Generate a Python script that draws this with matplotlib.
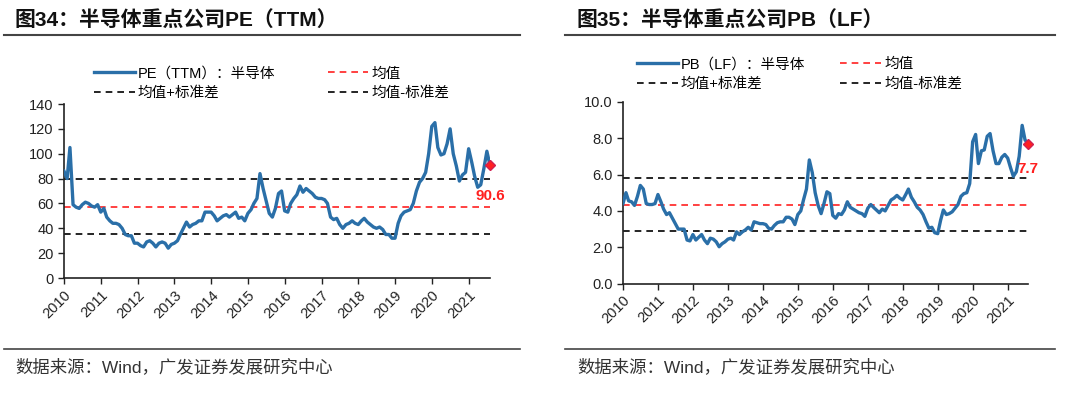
import numpy as np
import pandas as pd
import matplotlib
matplotlib.use("Agg")
import matplotlib.pyplot as plt
import matplotlib.dates as mdates
from matplotlib.lines import Line2D

plt.rcParams['font.family'] = ['Liberation Sans', 'Noto Sans CJK SC']
plt.rcParams['axes.unicode_minus'] = False

## 数据（月度，2010-01 ~ 2021-08，从图上读取）
pe_ttm = [86, 80, 105, 59, 57, 56, 59, 61, 60, 58, 57, 59,
          53, 56, 49, 46, 44, 44, 43, 40, 35, 34, 34, 28,
          28, 26, 25, 29, 30, 28, 25, 28, 29, 28, 24, 27,
          28, 30, 35, 40, 45, 41, 43, 44, 46, 46, 53, 53,
          53, 50, 46, 48, 50, 51, 49, 51, 53, 48, 49, 46,
          52, 55, 60, 64, 84, 72, 62, 52, 49, 56, 68, 70,
          54, 53, 60, 64, 67, 74, 69, 72, 70, 68, 65, 64,
          64, 63, 60, 49, 47, 48, 43, 40, 43, 44, 46, 44,
          43, 46, 48, 45, 43, 41, 40, 41, 39, 35, 35, 32,
          32, 44, 50, 53, 54, 55, 60, 70, 77, 80, 85, 100,
          122, 125, 105, 99, 100, 108, 120, 100, 90, 78, 83, 85,
          104, 93, 82, 73, 75, 88, 102, 90.6]
pb_lf = [4.4, 5.0, 4.55, 4.5, 4.3, 4.8, 5.4, 5.2, 4.4, 4.35, 4.35, 4.4,
         4.9, 4.5, 4.1, 3.8, 3.9, 3.6, 3.3, 3.0, 3.0, 3.0, 2.4, 2.35,
         2.7, 2.4, 2.55, 2.7, 2.4, 2.2, 2.5, 2.45, 2.3, 2.03, 2.2, 2.3,
         2.45, 2.5, 2.4, 2.85, 2.7, 2.85, 2.95, 3.1, 2.95, 3.4, 3.35, 3.3,
         3.3, 3.25, 3.05, 3.0, 3.2, 3.35, 3.4, 3.4, 3.65, 3.65, 3.55, 3.25,
         3.8, 4.0, 4.6, 5.2, 6.8, 6.1, 5.0, 4.3, 3.85, 4.4, 5.05, 4.95,
         3.75, 3.6, 3.85, 3.8, 4.05, 4.5, 4.2, 4.1, 4.0, 3.9, 3.85, 3.7,
         4.15, 4.35, 4.2, 4.05, 3.9, 4.1, 4.0, 4.3, 4.6, 4.7, 4.85, 4.7,
         4.6, 4.9, 5.2, 4.75, 4.5, 4.2, 4.05, 3.8, 3.4, 3.05, 3.1, 2.8,
         2.75, 3.5, 4.05, 3.8, 3.85, 3.95, 4.15, 4.35, 4.8, 4.95, 5.0, 5.5,
         7.8, 8.2, 6.6, 7.3, 7.35, 8.1, 8.25, 7.3, 6.6, 6.6, 6.95, 7.1,
         6.9, 6.35, 5.9, 6.15, 7.0, 8.7, 7.9, 7.7]

pe_mean, pe_std = 57.5, 22.2
pb_mean, pb_std = 4.35, 1.48

pe_yticks = [0, 20, 40, 60, 80, 100, 120, 140]
pb_yticks = [0.0, 2.0, 4.0, 6.0, 8.0, 10.0]

dates = pd.date_range("2010-01-01", periods=len(pe_ttm), freq="MS")

BLUE = "#2a6fa8"
RED = "#ff2020"

fig = plt.figure(figsize=(10.8, 3.99), dpi=100)


## 画一个面板
def panel(rect, values, mean, std, yticks, yfmt, series_label, end_label, end_dy,
          leg_anchor, colspace):
    ax = fig.add_axes(rect)
    ax.plot(dates, values, color=BLUE, lw=2.4, label=series_label, zorder=3)
    ax.axhline(mean + std, color="black", ls=(0, (4, 3)), lw=1.2, label="均值+标准差")
    ax.axhline(mean, color=RED, ls=(0, (4, 3)), lw=1.2, label="均值")
    ax.axhline(mean - std, color="black", ls=(0, (4, 3)), lw=1.2, label="均值-标准差")
    ax.plot(dates[-1], values[-1], marker="D", color=RED, ms=5.5, mec="#d02050",
            zorder=4, clip_on=False)
    ax.annotate(end_label, (dates[-1], values[-1]), xytext=(0, end_dy), textcoords="offset points",
                ha="center", va="center", color=RED, fontsize=11, fontweight="bold",
                annotation_clip=False)

    ax.set_xlim(pd.Timestamp("2010-01-01"), pd.Timestamp("2021-08-01"))
    ax.set_ylim(yticks[0], yticks[-1])
    ax.set_yticks(yticks)
    ax.set_yticklabels([yfmt.format(v) for v in yticks])
    ax.xaxis.set_major_locator(mdates.YearLocator())
    ax.xaxis.set_major_formatter(mdates.DateFormatter("%Y"))
    for lab in ax.get_xticklabels():
        lab.set_rotation(45)
        lab.set_ha("right")
        lab.set_rotation_mode("anchor")
    ax.tick_params(axis="both", direction="out", length=4, width=1, labelsize=10.5, colors="#222222")
    ax.tick_params(axis="x", pad=3)
    for s in ["top", "right"]:
        ax.spines[s].set_visible(False)
    for s in ["left", "bottom"]:
        ax.spines[s].set_linewidth(1.2)
        ax.spines[s].set_color("#222222")

    h, l = ax.get_legend_handles_labels()
    ax.legend(h, l, ncol=2, loc="upper left",
              bbox_to_anchor=leg_anchor, frameon=False, fontsize=10.5, handlelength=2.8,
              handletextpad=0.2, columnspacing=colspace, labelspacing=0.4, borderpad=0,
              borderaxespad=0)
    return ax


panel([64 / 1080, 121 / 399, 426 / 1080, 174 / 399], pe_ttm, pe_mean, pe_std, pe_yticks,
      "{:.0f}", "PE（TTM）：半导体", "90.6", -22, (0.07, 1.215), 3.6)
panel([623 / 1080, 115.3 / 399, 405 / 1080, 182 / 399], pb_lf, pb_mean, pb_std, pb_yticks,
      "{:.1f}", "PB（LF）：半导体", "7.7", -18, (0.035, 1.245), 2.4)

## 标题、分隔线、数据来源
fig.text(14 / 1080, 1 - 20 / 399, "图34：半导体重点公司PE（TTM）", fontsize=15, fontweight="bold",
         va="center", ha="left", color="#111111")
fig.text(577 / 1080, 1 - 20 / 399, "图35：半导体重点公司PB（LF）", fontsize=15, fontweight="bold",
         va="center", ha="left", color="#111111")
for x0, x1 in [(4, 520), (565, 1055)]:
    fig.add_artist(Line2D([x0 / 1080, x1 / 1080], [1 - 35 / 399] * 2, color="#444444", lw=1.5))
    fig.add_artist(Line2D([x0 / 1080, x1 / 1080], [1 - 349 / 399] * 2, color="#444444", lw=1.2))
fig.text(15 / 1080, 1 - 367 / 399, "数据来源：Wind，广发证券发展研究中心", fontsize=12.5,
         va="center", ha="left", color="#333333")
fig.text(577 / 1080, 1 - 367 / 399, "数据来源：Wind，广发证券发展研究中心", fontsize=12.5,
         va="center", ha="left", color="#333333")

fig.savefig("out.png", dpi=100)
